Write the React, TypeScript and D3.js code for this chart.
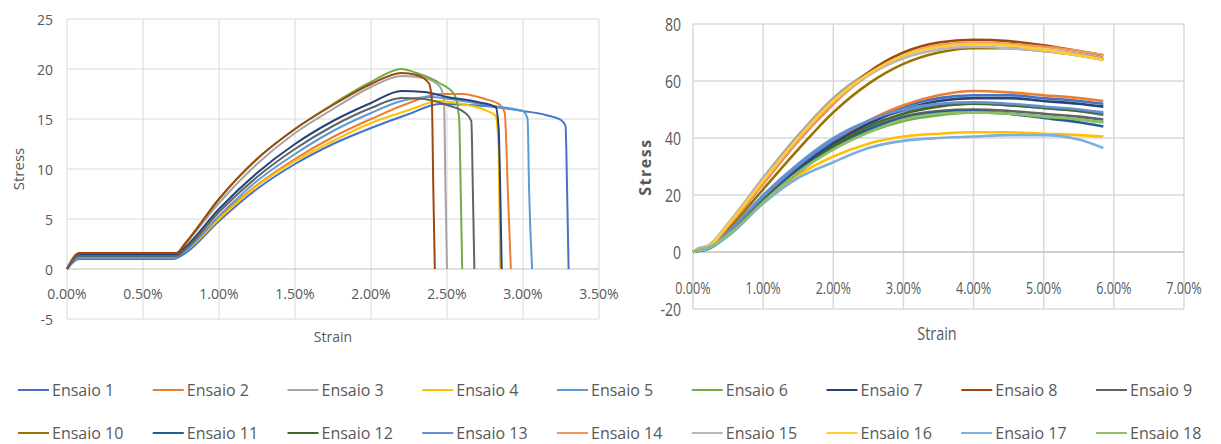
import React, { useRef, useEffect } from 'react';
import * as d3 from 'd3';

const seriesNames = [
  'Ensaio 1', 'Ensaio 2', 'Ensaio 3', 'Ensaio 4', 'Ensaio 5', 'Ensaio 6',
  'Ensaio 7', 'Ensaio 8', 'Ensaio 9', 'Ensaio 10', 'Ensaio 11', 'Ensaio 12',
  'Ensaio 13', 'Ensaio 14', 'Ensaio 15', 'Ensaio 16', 'Ensaio 17', 'Ensaio 18',
];
const seriesColors = [
  '#4472C4', '#ED7D31', '#A5A5A5', '#FFC000', '#5B9BD5', '#70AD47',
  '#264478', '#9E480E', '#636363', '#997300', '#255E91', '#43682B',
  '#698ED0', '#F1975A', '#B7B7B7', '#FFCD33', '#7CAFDD', '#8CC168',
];

const leftXTicks = [0, 0.5, 1, 1.5, 2, 2.5, 3, 3.5];
const leftYTicks = [-5, 0, 5, 10, 15, 20, 25];
const rightXTicks = [0, 1, 2, 3, 4, 5, 6, 7];
const rightYTicks = [-20, 0, 20, 40, 60, 80];

// left chart: [strain %, stress], Ensaio 1..9
const left1 = [[0, 0], [0.08, 1.0], [0.4, 1.0], [0.7, 1.0], [0.78, 1.6], [1.0, 4.8], [1.25, 8.0], [1.5, 10.5], [1.75, 12.5], [2.0, 14.1], [2.25, 15.5], [2.45, 16.5], [2.75, 16.3], [3.0, 15.8], [3.15, 15.4], [3.25, 14.9], [3.28, 14.3], [3.29, 8], [3.3, 0]];
const left2 = [[0, 0], [0.08, 1.3], [0.4, 1.3], [0.7, 1.3], [0.76, 1.8], [1.0, 5.2], [1.25, 8.4], [1.5, 11.0], [1.75, 13.2], [2.0, 15.0], [2.25, 16.6], [2.45, 17.5], [2.6, 17.5], [2.75, 17.0], [2.85, 16.4], [2.88, 15.6], [2.9, 8], [2.92, 0]];
const left3 = [[0, 0], [0.08, 1.5], [0.4, 1.5], [0.72, 1.5], [0.78, 2.5], [1.0, 6.6], [1.25, 10.5], [1.5, 13.6], [1.75, 16.0], [2.0, 18.2], [2.2, 19.3], [2.35, 19.1], [2.45, 18.3], [2.48, 17.0], [2.49, 8], [2.5, 0]];
const left4 = [[0, 0], [0.08, 1.2], [0.4, 1.2], [0.7, 1.2], [0.77, 1.7], [1.0, 5.0], [1.25, 8.3], [1.5, 10.8], [1.75, 12.8], [2.0, 14.6], [2.25, 15.9], [2.45, 16.8], [2.6, 16.5], [2.75, 15.9], [2.82, 15.3], [2.84, 12], [2.85, 0]];
const left5 = [[0, 0], [0.08, 1.1], [0.4, 1.1], [0.7, 1.1], [0.77, 1.7], [1.0, 5.3], [1.25, 8.8], [1.5, 11.5], [1.75, 13.8], [2.0, 15.6], [2.2, 16.8], [2.4, 17.2], [2.6, 16.8], [2.8, 16.3], [3.0, 15.8], [3.03, 15.0], [3.04, 8], [3.06, 0]];
const left6 = [[0, 0], [0.08, 1.5], [0.4, 1.6], [0.72, 1.6], [0.78, 2.6], [1.0, 7.0], [1.25, 11.0], [1.5, 14.0], [1.75, 16.5], [2.0, 18.7], [2.2, 20.0], [2.3, 19.6], [2.45, 18.6], [2.55, 17.4], [2.58, 15], [2.59, 8], [2.6, 0]];
const left7 = [[0, 0], [0.08, 1.4], [0.4, 1.4], [0.72, 1.4], [0.78, 2.2], [1.0, 6.0], [1.25, 9.6], [1.5, 12.5], [1.75, 14.8], [2.0, 16.6], [2.2, 17.8], [2.35, 17.7], [2.5, 17.2], [2.7, 16.7], [2.82, 16.2], [2.84, 14], [2.85, 8], [2.86, 0]];
const left8 = [[0, 0], [0.08, 1.6], [0.4, 1.6], [0.72, 1.6], [0.78, 2.6], [1.0, 7.0], [1.25, 11.0], [1.5, 14.0], [1.75, 16.4], [2.0, 18.5], [2.2, 19.6], [2.3, 19.4], [2.38, 18.6], [2.4, 17], [2.41, 8], [2.42, 0]];
const left9 = [[0, 0], [0.08, 1.3], [0.4, 1.3], [0.72, 1.3], [0.78, 2.0], [1.0, 5.7], [1.25, 9.2], [1.5, 12.0], [1.75, 14.3], [2.0, 16.1], [2.2, 17.1], [2.35, 17.0], [2.5, 16.4], [2.62, 15.6], [2.66, 14.8], [2.67, 8], [2.68, 0]];
const leftSeries = [left1, left2, left3, left4, left5, left6, left7, left8, left9];

// right chart: shared strain (%), stress per Ensaio 1..18
const rightStrain = [0, 0.1, 0.2, 0.5, 1, 1.5, 2, 2.5, 3, 3.5, 4, 4.5, 5, 5.5, 5.85];
const right1 = [0, 0.5, 1, 6, 19, 30, 39, 46, 51, 54, 55, 55, 54, 53, 52];
const right2 = [0, 0.5, 1, 6, 18, 29, 38, 46, 51.5, 55, 56.5, 56, 55, 54, 53];
const right3 = [0, 1.5, 1.8, 10, 26, 41, 54, 63, 69, 72, 73, 72.5, 71, 69.5, 68];
const right4 = [0, 0.5, 1, 6, 18, 27, 33.5, 38, 40.5, 41.5, 42, 42, 41.5, 41, 40.5];
const right5 = [0, 0.5, 1, 7, 20, 31, 40, 46, 49.5, 51.5, 52, 51.5, 50.5, 49.5, 48];
const right6 = [0, 1, 1.5, 6, 17.5, 28, 36, 42, 46, 48, 49, 48.5, 47.5, 46.5, 45.5];
const right7 = [0, 0.5, 1, 6, 18, 29, 38, 45, 50, 53, 54, 54, 53, 52, 51];
const right8 = [0, 1, 1.5, 9, 24, 39, 52, 63, 70, 73.5, 74.5, 74, 72.5, 70.5, 69];
const right9 = [0, 0.5, 1, 6, 18, 28, 36.5, 43, 47.5, 49.5, 50, 49.5, 48.5, 47.5, 46.5];
const right10 = [0, 0.5, 1, 8, 22, 36, 49, 59, 66, 70, 71.5, 71.5, 70.5, 69, 67.5];
const right11 = [0, 0.5, 1, 6, 18, 28.5, 37, 43, 47, 49, 49.5, 48.5, 47, 45.5, 44];
const right12 = [0, 0.5, 1, 6, 18, 28, 37, 44, 48.5, 51, 52, 51.5, 50.5, 49.5, 48.5];
const right13 = [0, 0.5, 1, 7, 19.5, 30.5, 39.5, 46, 50, 52, 52.5, 52, 51, 50, 49];
const right14 = [0, 1, 1.5, 9, 24, 39, 52, 62, 69, 72.5, 73.5, 73, 72, 70.5, 69];
const right15 = [0, 1.5, 2, 10, 25.5, 40, 53, 62, 68, 71, 72, 71.5, 70.5, 69, 67.5];
const right16 = [0, 1, 1.5, 9.5, 25, 40, 53, 62.5, 69, 72, 73, 72.5, 71, 69, 67.5];
const right17 = [0, 0.5, 1, 5.5, 17, 26, 31.5, 36.5, 39, 40, 40.5, 41, 41, 39.5, 36.5];
const right18 = [0, 1, 1.5, 6, 17.5, 28, 36, 42, 46.5, 48.5, 49, 48.5, 47.5, 46.5, 45.5];
const rightSeries = [right1, right2, right3, right4, right5, right6, right7, right8, right9,
  right10, right11, right12, right13, right14, right15, right16, right17, right18];

const W = 1221;
const H = 444;
const FONT = '"Open Sans", sans-serif';
const TXT = '#595959';
const GRID = '#d9d9d9';

const pct = (v: number) => `${v.toFixed(2)}%`;

export default function App() {
  const svgRef = useRef<SVGSVGElement>(null);

  useEffect(() => {
    const svg = d3.select(svgRef.current);
    svg.selectAll('*').remove();

    // ---------- left chart ----------
    const xL = d3.scaleLinear().domain([0, 3.5]).range([67, 599]);
    const yL = d3.scaleLinear().domain([-5, 25]).range([319, 19]);
    const gL = svg.append('g');

    gL.selectAll('line.vx').data(leftXTicks).join('line')
      .attr('x1', (d) => xL(d)).attr('x2', (d) => xL(d))
      .attr('y1', yL(25)).attr('y2', yL(-5))
      .attr('stroke', GRID).attr('stroke-width', 1);
    gL.selectAll('line.hy').data(leftYTicks).join('line')
      .attr('x1', xL(0)).attr('x2', xL(3.5))
      .attr('y1', (d) => yL(d)).attr('y2', (d) => yL(d))
      .attr('stroke', (d) => (d === 0 ? '#bfbfbf' : GRID)).attr('stroke-width', 1);

    gL.selectAll('text.yt').data(leftYTicks).join('text')
      .attr('x', 53).attr('y', (d) => yL(d))
      .attr('text-anchor', 'end').attr('dominant-baseline', 'central')
      .attr('font-size', 14).attr('font-family', FONT).attr('fill', TXT)
      .text((d) => d);
    gL.selectAll('text.xt').data(leftXTicks).join('text')
      .attr('x', (d) => xL(d)).attr('y', 293)
      .attr('text-anchor', 'middle').attr('dominant-baseline', 'central')
      .attr('font-size', 14).attr('font-family', FONT).attr('fill', TXT)
      .text((d) => pct(d));

    const lineL = d3.line<number[]>()
      .x((d) => xL(d[0])).y((d) => yL(d[1]))
      .curve(d3.curveMonotoneX);
    gL.selectAll('path.s').data(leftSeries).join('path')
      .attr('d', (d) => lineL(d))
      .attr('fill', 'none')
      .attr('stroke', (_d, i) => seriesColors[i])
      .attr('stroke-width', 2)
      .attr('stroke-linejoin', 'round');

    gL.append('text')
      .attr('transform', 'translate(18,169) rotate(-90)')
      .attr('text-anchor', 'middle').attr('dominant-baseline', 'central')
      .attr('font-size', 15).attr('font-family', FONT).attr('fill', TXT)
      .text('Stress');
    gL.append('text')
      .attr('x', 333).attr('y', 336)
      .attr('text-anchor', 'middle').attr('dominant-baseline', 'central')
      .attr('font-size', 14).attr('font-family', FONT).attr('fill', TXT)
      .text('Strain');

    // ---------- right chart ----------
    const xR = d3.scaleLinear().domain([0, 7]).range([693, 1184]);
    const yR = d3.scaleLinear().domain([-20, 80]).range([309, 24]);
    const gR = svg.append('g');

    gR.selectAll('line.vx').data(rightXTicks).join('line')
      .attr('x1', (d) => xR(d)).attr('x2', (d) => xR(d))
      .attr('y1', yR(80)).attr('y2', yR(-20))
      .attr('stroke', GRID).attr('stroke-width', 1.5);
    gR.selectAll('line.hy').data(rightYTicks).join('line')
      .attr('x1', xR(0)).attr('x2', xR(7))
      .attr('y1', (d) => yR(d)).attr('y2', (d) => yR(d))
      .attr('stroke', (d) => (d === 0 ? '#bfbfbf' : GRID)).attr('stroke-width', 1.5);

    gR.selectAll('text.yt').data(rightYTicks).join('text')
      .attr('transform', (d) => `translate(681,${yR(d)}) scale(0.78,1)`)
      .attr('text-anchor', 'end').attr('dominant-baseline', 'central')
      .attr('font-size', 18).attr('font-family', FONT).attr('fill', TXT)
      .text((d) => d);
    gR.selectAll('text.xt').data(rightXTicks).join('text')
      .attr('transform', (d) => `translate(${xR(d)},287) scale(0.74,1)`)
      .attr('text-anchor', 'middle').attr('dominant-baseline', 'central')
      .attr('font-size', 17).attr('font-family', FONT).attr('fill', TXT)
      .text((d) => pct(d));

    const lineR = d3.line<number>()
      .x((_d, i) => xR(rightStrain[i])).y((d) => yR(d))
      .curve(d3.curveMonotoneX);
    gR.selectAll('path.s').data(rightSeries).join('path')
      .attr('d', (d) => lineR(d))
      .attr('fill', 'none')
      .attr('stroke', (_d, i) => seriesColors[i])
      .attr('stroke-width', 2.6)
      .attr('stroke-linejoin', 'round');

    gR.append('text')
      .attr('transform', 'translate(645,167) rotate(-90)')
      .attr('text-anchor', 'middle').attr('dominant-baseline', 'central')
      .attr('font-size', 16).attr('font-weight', 'bold').attr('letter-spacing', 1.5)
      .attr('font-family', FONT).attr('fill', TXT)
      .text('Stress');
    gR.append('text')
      .attr('transform', 'translate(937,333) scale(0.8,1)')
      .attr('text-anchor', 'middle').attr('dominant-baseline', 'central')
      .attr('font-size', 18).attr('font-family', FONT).attr('fill', TXT)
      .text('Strain');

    // ---------- legend ----------
    const colX = d3.scaleLinear().domain([0, 8]).range([18, 1096]);
    const rowY = [390, 433];
    const leg = svg.append('g');
    const items = leg.selectAll('g.item').data(seriesNames).join('g')
      .attr('transform', (_d, i) => `translate(${colX(i % 9)},${rowY[Math.floor(i / 9)]})`);
    items.append('line')
      .attr('x1', 0).attr('x2', 31).attr('y1', 0).attr('y2', 0)
      .attr('stroke', (_d, i) => seriesColors[i]).attr('stroke-width', 2);
    items.append('text')
      .attr('x', 34).attr('y', 0)
      .attr('dominant-baseline', 'central')
      .attr('font-size', 16).attr('font-family', FONT).attr('fill', TXT)
      .text((d) => d);
  }, []);

  return (
    <svg
      ref={svgRef}
      width={W}
      height={H}
      style={{ position: 'absolute', left: 0, top: 0, background: '#fff' }}
    />
  );
}
